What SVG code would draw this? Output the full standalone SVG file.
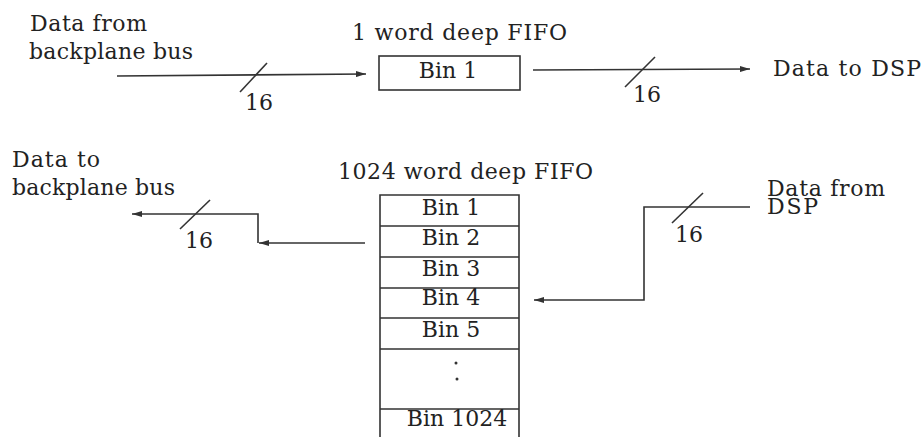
<svg xmlns="http://www.w3.org/2000/svg" width="924" height="437" viewBox="0 0 924 437">
<style>
text{font-family:"DejaVu Serif","Liberation Serif",serif;font-size:22px;fill:#222}
.bin{text-anchor:middle}
.ln{fill:none;stroke:#333;stroke-width:1.6}
.sl{fill:none;stroke:#333;stroke-width:1.6}
.box{fill:#fff;stroke:#333;stroke-width:1.6}
</style>
<defs>
<marker id="ah" viewBox="0 0 10 6" refX="10" refY="3" markerWidth="10" markerHeight="6" markerUnits="userSpaceOnUse" orient="auto">
<path d="M0,0 L10,3 L0,6 Z" fill="#333"/>
</marker>
</defs>
<rect width="924" height="437" fill="#fff"/>

<g id="labels">
<text x="30" y="31" textLength="117">Data from</text>
<text x="29" y="59" textLength="164">backplane bus</text>
<text x="773" y="76" textLength="148">Data to DSP</text>
<text x="12" y="167" textLength="88">Data to</text>
<text x="12" y="195" textLength="163">backplane bus</text>
<text x="767" y="196" textLength="118">Data from</text>
<text x="767" y="214" textLength="51">DSP</text>
</g>

<g id="fifo1">
<text x="352" y="40" textLength="215">1 word deep FIFO</text>
<rect class="box" x="379" y="56" width="141" height="34"/>
<text class="bin" x="448" y="78">Bin 1</text>
</g>

<g id="fifo1024">
<text x="338" y="179" textLength="255">1024 word deep FIFO</text>
<path class="ln" d="M380,437 V195 H519 V437 M380,226 H519 M380,257 H519 M380,288 H519 M380,318 H519 M380,349 H519 M380,409 H519"/>
<text class="bin" x="451" y="215">Bin 1</text>
<text class="bin" x="451" y="245">Bin 2</text>
<text class="bin" x="451" y="276">Bin 3</text>
<text class="bin" x="451" y="305">Bin 4</text>
<text class="bin" x="451" y="337">Bin 5</text>
<circle cx="456" cy="363" r="1.5" fill="#333"/>
<circle cx="457" cy="379" r="1.5" fill="#333"/>
<text class="bin" x="457" y="426">Bin 1024</text>
</g>

<g id="connectors">
<path class="ln" d="M117,76 L366,74" marker-end="url(#ah)"/>
<path class="sl" d="M240,92 L267,63"/>
<text x="245" y="110">16</text>

<path class="ln" d="M533,70 L750,69" marker-end="url(#ah)"/>
<path class="sl" d="M625,87 L655,57"/>
<text x="633" y="102">16</text>

<path class="ln" d="M365,243 H259" marker-end="url(#ah)"/>
<path class="ln" d="M258,243 V214 H132" marker-end="url(#ah)"/>
<path class="sl" d="M180,229 L210,200"/>
<text x="185" y="248">16</text>

<path class="ln" d="M750,207 H644 V300 H534" marker-end="url(#ah)"/>
<path class="sl" d="M672,223 L703,193"/>
<text x="675" y="242">16</text>
</g>
</svg>
